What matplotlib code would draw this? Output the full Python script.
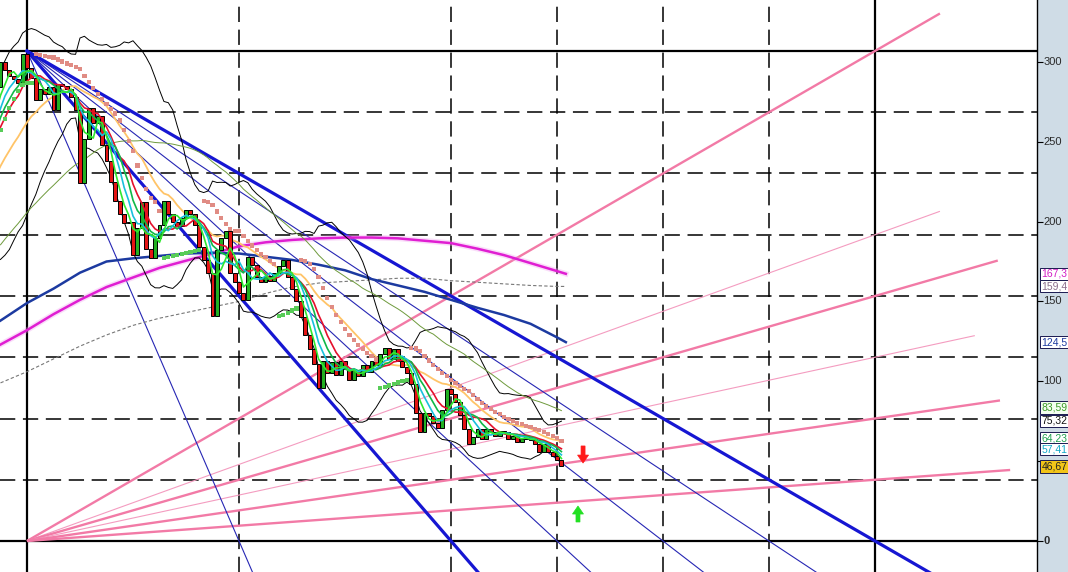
import numpy as np
import pandas as pd
import matplotlib
matplotlib.use("Agg")
import matplotlib.pyplot as plt
from matplotlib.patches import Polygon

plt.rcParams['font.family'] = ['Liberation Sans', 'DejaVu Sans']

# ---------------- data ----------------
# closes before the visible window (used only to warm up the indicators)
prior_closes = [120, 124, 122, 128, 131, 127, 133, 138, 135, 140, 144, 141, 147, 150, 148,
                154, 158, 155, 160, 163, 161, 167, 170, 168, 174,
                180, 178, 185, 190, 187, 194, 200, 197, 205, 211, 208, 216, 223, 220, 229,
                237, 234, 244, 252, 249, 260, 268, 264, 284, 300]
# weekly closes, bar -5 .. 121 (bar 0 = the top)
closes = [295, 291, 289, 287, 305,
          296, 290, 276, 283, 280, 284, 270, 286, 285, 283, 278, 270,
          224, 252, 271, 262, 266, 248, 238, 225, 213, 205, 199, 200,
          179, 196, 212, 183, 177, 190, 198, 213, 205, 200, 197, 202,
          207, 205, 198, 184, 176, 168, 141, 182, 190, 194, 168, 162,
          155, 151, 178, 173, 165, 162, 166, 163, 168, 172, 176, 165,
          158, 150, 140, 129, 120, 111, 96, 113, 105, 112, 104, 113,
          108, 101, 107, 103, 110, 106, 113, 110, 117, 121, 114, 120,
          113, 109, 105, 98, 80, 68, 80, 78, 74, 71, 82, 95,
          92, 87, 79, 70, 61, 65, 70, 64, 70, 68, 66, 69,
          68, 64, 66, 62, 64, 66, 63, 61, 56, 61, 56, 53,
          51, 46.67]
first_bar = -5

# long moving averages
long_ma_bars = [-6, 0, 6, 12, 18, 24, 30, 36, 42, 48, 54, 60, 66, 72, 78, 84, 90, 96, 102, 108, 114, 120, 122]
ma_blue = [138, 149, 158, 168, 175, 177, 178.5, 180, 180.5, 180, 178, 176, 173, 169.5, 164, 160, 156, 151,
           146, 141.5, 136, 127.5, 124.5]
ma_magenta = [123, 132, 142, 151, 159, 165, 171, 175.5, 180, 184.5, 187, 188.5, 189.5, 190, 190, 189.5,
              188, 186.5, 183, 179, 174, 169, 167.3]
ma_gray = [99, 106, 114, 122, 129, 135, 139.5, 143, 146.5, 150, 155, 159, 161.5, 162.5, 163.5, 164.5,
           164.5, 163, 162, 161, 160, 159.4, 159.4]

# Gann frame
gann_top = 306.8
gann_span = 192
up_fan_fracs = [1, 5 / 8, 1 / 2, 3 / 8, 1 / 4, 1 / 8]
up_fan_ends = [206.7, 206.7, 219.8, 214.6, 220.3, 222.6]
up_fan_thick = [True, False, True, False, True, True]
down_fan_bars = [48, 96, 120, 144, 168, 192]
down_fan_thick = [False, True, False, False, False, True]
grid_v_dashed = [48, 96, 120, 144, 168]

axis_ticks = [0, 50, 100, 150, 200, 250, 300]
axis_tick_labels = ["0", "", "100", "150", "200", "250", "300"]
labels = [("167,3", 167.3, '#d21cc4', 'white'),
          ("159,4", 159.4, '#8c6e8c', 'white'),
          ("124,5", 124.5, '#1c3aa0', 'white'),
          ("83,59", 83.59, '#3c9a28', '#f4fff0'),
          ("75,32", 75.32, '#111111', 'white'),
          ("64,23", 64.23, '#20a050', 'white'),
          ("57,41", 57.41, '#10a8c8', 'white'),
          ("46,67", 46.67, '#222222', '#f2c418')]

# ---------------- layout ----------------
W, H = 1068, 572
PANEL_X = 1037
PX_PER_BAR = 106 / 24
ORIGIN_PX = 27
ZERO_PY = 541
PX_PER_UNIT = 490 / gann_top

xlim = ((0 - ORIGIN_PX) / PX_PER_BAR, (PANEL_X - ORIGIN_PX) / PX_PER_BAR)
ylim = ((ZERO_PY - H) / PX_PER_UNIT, ZERO_PY / PX_PER_UNIT)

fig = plt.figure(figsize=(W / 100, H / 100), dpi=100)
ax = fig.add_axes([0, 0, PANEL_X / W, 1])
ax.set_xlim(*xlim)
ax.set_ylim(*ylim)
ax.axis('off')

# ---------------- Gann grid ----------------
for k in range(1, 8):
    ax.axhline(gann_top * k / 8, color='black', lw=1.1, dashes=(10, 5), zorder=1)
for b in grid_v_dashed:
    ax.axvline(b, color='black', lw=1.1, dashes=(10, 5), zorder=1)
ax.axhline(0, color='black', lw=1.6, zorder=1)
ax.axhline(gann_top, color='black', lw=1.6, zorder=1)
ax.axvline(0, color='black', lw=1.6, zorder=1)
ax.axvline(gann_span, color='black', lw=1.6, zorder=1)

# pink fan from the bottom-left corner
for f, xe, thick in zip(up_fan_fracs, up_fan_ends, up_fan_thick):
    slope = f * gann_top / gann_span
    ax.plot([0, xe], [0, slope * xe], color='#f27aa6' if thick else '#f49cc0',
            lw=1.7 if thick else 0.8, zorder=2, solid_capstyle='butt')

# blue fan from the top
for b, thick in zip(down_fan_bars, down_fan_thick):
    slope = -gann_top / b
    xe = (ylim[0] - 5 - gann_top) / slope
    ax.plot([0, xe], [gann_top, gann_top + slope * xe], color='#1616d2' if thick else '#2626b4',
            lw=2.3 if thick else 0.8, zorder=2)

# ---------------- long MAs ----------------
ax.plot(long_ma_bars, ma_gray, color='#777777', lw=0.8, dashes=(3, 2), zorder=2)
ax.plot(long_ma_bars, ma_magenta, color='#f0a0f0', lw=4, alpha=0.35, zorder=2)
ax.plot(long_ma_bars, ma_magenta, color='#e01ed2', lw=1.8, zorder=2)
ax.plot(long_ma_bars, ma_blue, color='#1c3aa0', lw=1.8, zorder=2)

# ---------------- short indicators ----------------
all_closes = pd.Series(prior_closes + closes, dtype=float)
bars = np.arange(first_bar - len(prior_closes), first_bar + len(closes))
opens = all_closes.shift(1).bfill()
hi = np.maximum(opens.values, all_closes.values)
lo = np.minimum(opens.values, all_closes.values)

vis = bars >= -7
mid = all_closes.rolling(20).mean()
sd = all_closes.rolling(20).std(ddof=0)
ax.plot(bars[vis], (mid + 2 * sd)[vis], color='black', lw=0.7, zorder=3)
ax.plot(bars[vis], (mid - 2 * sd)[vis], color='black', lw=0.7, zorder=3)

ax.plot(bars[vis], all_closes.rolling(50).mean()[vis], color='#6e9a3c', lw=0.7, zorder=3)
ax.plot(bars[vis], all_closes.rolling(20).mean()[vis], color='#ffc468', lw=1.3, zorder=3)
ax.plot(bars[vis], all_closes.rolling(10).mean()[vis], color='#e4102c', lw=1.2, zorder=5)
ax.plot(bars[vis], all_closes.rolling(8).mean()[vis], color='#10b848', lw=1.2, zorder=5)
ax.plot(bars[vis], all_closes.rolling(6).mean()[vis], color='#18c0dc', lw=1.2, zorder=5)
ax.plot(bars[vis], all_closes.rolling(4).mean()[vis], color='#30e830', lw=1.2, zorder=5)

# parabolic SAR on the bodies
n = len(all_closes)
sar = np.zeros(n)
bull = np.zeros(n, dtype=bool)
up = True
af = 0.02
ep = hi[0]
sar[0] = lo[0]
bull[0] = True
for i in range(1, n):
    s = sar[i - 1] + af * (ep - sar[i - 1])
    if up:
        s = min(s, lo[i - 1], lo[max(i - 2, 0)])
        if lo[i] < s:
            up = False
            s = ep
            ep = lo[i]
            af = 0.02
        elif hi[i] > ep:
            ep = hi[i]
            af = min(af + 0.02, 0.2)
    else:
        s = max(s, hi[i - 1], hi[max(i - 2, 0)])
        if hi[i] > s:
            up = True
            s = ep
            ep = hi[i]
            af = 0.02
        elif lo[i] < ep:
            ep = lo[i]
            af = min(af + 0.02, 0.2)
    sar[i] = s
    bull[i] = up
m_up = vis & bull
m_dn = vis & ~bull
ax.scatter(bars[m_dn], sar[m_dn], marker='s', s=9, color='#e08c84', edgecolors='none', zorder=6)
ax.scatter(bars[m_up], sar[m_up], marker='s', s=9, color='#58cc58', edgecolors='none', zorder=6)

# ---------------- candles ----------------
cv = bars >= -6
o = opens.values[cv]
c = all_closes.values[cv]
colors = np.where(c >= o, '#22b022', '#e41414')
ax.bar(bars[cv], c - o, bottom=o, width=0.9, color=colors, edgecolor='black', linewidth=0.7, zorder=4)


# ---------------- signal arrows ----------------
def signal_arrow(xb, tail, tip, color):
    d = 1 if tip > tail else -1
    hw = 5.5 / PX_PER_BAR
    sw = 2.0 / PX_PER_BAR
    hl = 8 / PX_PER_UNIT
    base = tip - d * hl
    pts = [(xb - sw, tail), (xb + sw, tail), (xb + sw, base), (xb + hw, base),
           (xb, tip), (xb - hw, base), (xb - sw, base)]
    ax.add_patch(Polygon(pts, closed=True, fc=color, ec=color, lw=0.5, zorder=7))


last_bar = bars[-1]
signal_arrow(last_bar + 4.9, 59.5, 48.8, '#ff1a1a')
signal_arrow(last_bar + 3.75, 11.9, 21.9, '#22e022')

# ---------------- price axis panel ----------------
ax2 = fig.add_axes([PANEL_X / W, 0, (W - PANEL_X) / W, 1])
ax2.set_facecolor('#cfdce6')
ax2.set_ylim(*ylim)
ax2.set_xlim(0, 1)
for sp in ['top', 'right', 'bottom']:
    ax2.spines[sp].set_visible(False)
ax2.spines['left'].set_linewidth(1.0)
ax2.set_xticks([])
ax2.set_yticks(axis_ticks)
ax2.tick_params(axis='y', direction='in', length=4, width=0.8, labelleft=False)
for t, lab in zip(axis_ticks, axis_tick_labels):
    if lab:
        ax2.text(0.2, t, lab, fontsize=8, color='#2a2a2a', va='center', ha='left',
                 fontweight='bold' if t == 0 else 'normal')
for txt, val, col, bg in labels:
    ax2.text(0.14, val, txt, fontsize=7.5, color=col, va='center', ha='left', zorder=5,
             bbox=dict(boxstyle='square,pad=0.1', fc=bg, ec='#1a1a50', lw=0.7))

fig.savefig('out.png', dpi=100)
